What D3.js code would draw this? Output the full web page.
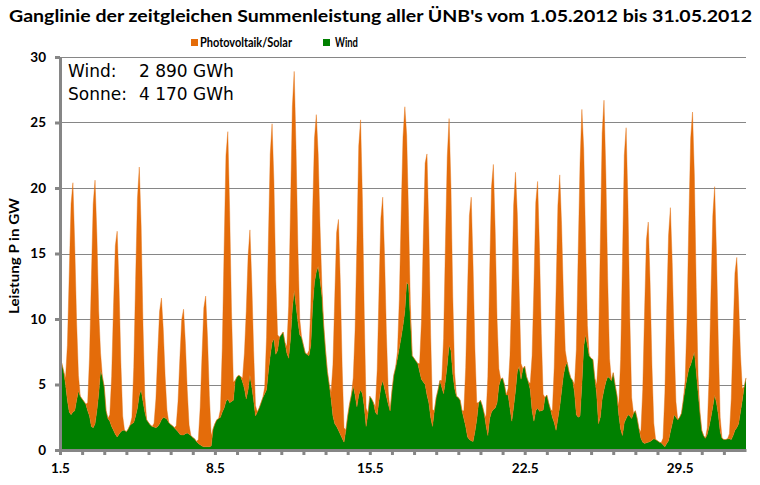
<!DOCTYPE html>
<html><head><meta charset="utf-8">
<script src="https://cdn.jsdelivr.net/npm/d3@7"></script>
<style>body{margin:0;background:#fff}svg{display:block}</style>
</head><body><svg id="c" width="760" height="485"></svg>
<script>
// ---- data (2-hour steps, GW) ----
const titleText = "Ganglinie der zeitgleichen Summenleistung aller ÜNB's vom 1.05.2012 bis 31.05.2012";
const seriesNames = ["Photovoltaik/Solar", "Wind"];
const yTicks = [0, 5, 10, 15, 20, 25, 30];
const dayTicks = d3.range(0, 31);
const xLabelDays = [0, 7, 14, 21, 28];
const xLabels = ["1.5", "8.5", "15.5", "22.5", "29.5"];
const stepHours = 2;
const totals = [["Wind:", "2 890 GWh"], ["Sonne:", "4 170 GWh"]];

const wind = [
 6.4,6.6,6.0,5.0,3.8,2.9,2.7,2.9,3.0,3.8,4.5,4.1,
 3.9,3.7,3.5,3.0,2.6,1.8,1.7,2.0,3.0,4.3,6.1,5.6,
 4.8,3.0,2.4,2.2,1.8,1.5,1.2,1.0,1.2,1.4,1.5,1.5,
 1.4,1.6,1.9,2.0,2.1,2.6,3.2,4.2,4.6,3.7,2.9,2.3,
 2.1,1.9,1.8,1.75,1.7,1.8,2.0,2.3,2.5,2.45,2.35,2.1,
 1.95,1.85,1.7,1.55,1.4,1.2,1.15,1.15,1.25,1.3,1.2,1.1,
 0.95,0.85,0.65,0.5,0.4,0.3,0.25,0.25,0.25,0.25,0.3,1.6,
 2.0,2.3,2.4,2.5,2.9,3.2,3.7,3.9,3.6,3.7,3.8,5.3,
 5.6,5.7,5.6,5.2,4.7,3.9,4.6,5.7,4.8,3.8,2.6,2.9,
 3.2,3.6,4.0,4.3,4.6,6.0,7.2,8.2,8.5,7.3,7.6,8.6,
 8.8,9.0,8.2,7.4,7.0,8.5,10.8,12.2,11.0,9.8,8.8,8.6,
 8.0,7.4,7.3,7.2,8.0,11.0,12.8,13.6,14.0,13.0,11.8,9.5,
 7.6,6.0,5.0,3.9,2.6,2.0,1.8,1.5,1.2,0.9,0.6,1.5,
 2.6,3.5,4.2,4.9,4.2,3.3,4.2,4.6,4.3,3.3,1.8,2.8,
 4.1,3.9,3.6,2.9,2.7,3.8,4.8,5.3,4.7,4.1,3.5,3.0,
 4.5,5.7,6.3,7.0,7.8,8.6,9.5,10.6,12.8,12.6,10.0,7.2,
 7.0,6.8,6.6,6.0,5.4,5.2,5.0,4.2,3.6,2.5,1.8,3.0,
 4.0,4.6,5.3,4.8,4.3,5.3,6.5,8.0,7.6,5.8,4.7,4.1,
 4.0,3.8,3.0,2.4,1.8,1.0,0.8,0.7,0.65,1.4,2.3,3.6,
 3.8,3.4,2.8,1.9,1.1,2.4,2.9,3.1,3.2,3.6,4.9,5.4,
 5.5,5.0,4.2,4.2,3.2,2.2,3.3,4.5,6.0,6.4,5.4,6.2,
 6.4,5.6,5.2,4.6,3.0,2.2,3.0,3.2,2.95,3.0,3.05,4.0,
 4.2,3.6,3.1,2.5,2.1,1.5,2.4,3.3,4.5,5.7,6.4,6.7,
 6.0,5.5,5.3,4.4,2.7,2.5,2.6,5.0,7.9,8.8,8.0,7.2,
 7.0,6.9,5.5,4.3,2.0,2.5,3.9,4.6,5.2,5.6,5.5,5.3,
 5.9,5.0,4.2,2.7,1.6,1.1,2.1,2.4,2.7,2.6,2.4,2.8,
 3.0,2.4,1.6,0.9,0.6,0.5,0.55,0.6,0.65,0.75,0.85,0.8,
 0.7,0.6,0.55,0.4,0.25,0.5,0.7,1.4,2.0,2.7,2.5,2.3,
 2.5,2.8,3.8,4.7,5.5,6.2,6.5,7.0,7.5,6.0,4.4,2.9,
 1.5,1.1,0.9,1.2,1.8,2.5,3.3,4.2,3.6,2.7,1.4,0.9,
 0.8,0.8,0.85,0.85,0.8,1.1,1.5,1.7,2.0,2.9,3.8,4.8,
 5.5
];

const solar = [
 0,0,0,0.5,4.2,10.5,16.1,17.5,12.6,6.0,1.2,0,
 0,0,0,0.6,4.5,11.2,17.1,18.6,13.4,6.3,1.3,0,
 0,0,0,0.5,3.8,9.4,14.4,15.7,11.3,5.3,1.1,0,
 0,0,0,0.5,4.2,10.4,16.0,17.4,12.5,5.9,1.2,0,
 0,0,0,0.3,2.2,5.6,8.6,9.3,6.7,3.2,0.7,0,
 0,0,0,0.3,2.3,5.8,8.8,9.6,6.9,3.3,0.7,0,
 0,0,0,0.3,2.8,6.9,10.6,11.5,8.3,3.9,0.8,0,
 0,0,0,0.6,4.9,12.2,18.8,20.4,14.7,6.9,1.4,0,
 0,0,0,0.3,2.7,6.7,10.2,11.1,8.0,3.8,0.8,0,
 0,0,0,0.5,4.0,10.0,15.4,16.7,12.0,5.7,1.2,0,
 0,0,0,0.5,4.0,10.0,15.4,16.7,12.0,5.7,1.2,0,
 0,0,0,0.4,2.9,7.2,11.0,12.0,8.6,4.1,0.8,0,
 0,0,0,0.5,3.9,9.7,14.8,16.1,11.6,5.5,1.1,0,
 0,0,0,0.6,4.9,12.4,19.0,20.6,14.8,7.0,1.4,0,
 0,0,0,0.4,3.4,8.4,12.9,14.0,10.1,4.8,1.0,0,
 0,0,0,0.5,3.7,9.4,14.4,15.6,11.2,5.3,1.1,0,
 0,0,0,0.6,4.4,11.0,16.9,18.4,13.2,6.3,1.3,0,
 0,0,0,0.5,4.2,10.4,15.9,17.3,12.5,5.9,1.2,0,
 0,0,0,0.6,4.5,11.2,17.1,18.6,13.4,6.3,1.3,0,
 0,0,0,0.6,4.5,11.2,17.2,18.7,13.5,6.4,1.3,0,
 0,0,0,0.5,4.0,10.0,15.4,16.7,12.0,5.7,1.2,0,
 0,0,0,0.5,4.2,10.4,15.9,17.3,12.5,5.9,1.2,0,
 0,0,0,0.5,4.2,10.6,16.3,17.7,12.7,6.0,1.2,0,
 0,0,0,0.6,5.0,12.6,19.3,21.0,15.1,7.1,1.5,0,
 0,0,0,0.7,5.3,13.3,20.3,22.1,15.9,7.5,1.5,0,
 0,0,0,0.7,5.3,13.3,20.4,22.2,16.0,7.5,1.6,0,
 0,0,0,0.5,4.0,10.1,15.5,16.8,12.1,5.7,1.2,0,
 0,0,0,0.5,4.1,10.3,15.7,17.1,12.3,5.8,1.2,0,
 0,0,0,0.6,4.5,11.3,17.3,18.8,13.5,6.4,1.3,0,
 0,0,0,0.5,3.8,9.5,14.6,15.9,11.4,5.4,1.1,0,
 0,0,0,0.4,3.1,7.8,12.0,13.0,9.4,4.4,0.9,0,
 0
];

// ---- chart ----
const svg = d3.select("#c");
const W = 760, H = 485;
const m = {left: 60, right: 746, top: 57, bottom: 450};
const totalHours = 31 * 24;
const x = d3.scaleLinear().domain([0, totalHours]).range([m.left, m.right]);
const y = d3.scaleLinear().domain([0, 30]).range([m.bottom, m.top]);
const colors = {wind: "#008000", solar: "#E46C0A"};
const grey = "#868686";
const calibri = "Lato, 'Open Sans', sans-serif";

function fit(sel, w) {
  sel.each(function() {
    const cur = this.getComputedTextLength();
    if (Math.abs(cur - w) > 1) {
      d3.select(this).attr("textLength", w).attr("lengthAdjust", "spacingAndGlyphs");
    }
  });
}

svg.append("rect").attr("width", W).attr("height", H).attr("fill", "#fff");

// gridlines
svg.append("g").selectAll("line").data(yTicks.filter(d => d > 0)).join("line")
  .attr("x1", m.left).attr("x2", m.right)
  .attr("y1", d => Math.round(y(d)) + 0.5).attr("y2", d => Math.round(y(d)) + 0.5)
  .attr("stroke", grey).attr("stroke-width", 1);

// stacked areas
const rows = wind.map((w, i) => ({t: i * stepHours, wind: w, solar: solar[i]}));
const stack = d3.stack().keys(["wind", "solar"])(rows);
const area = d3.area()
  .x(d => x(d.data.t))
  .y0(d => y(d[0]))
  .y1(d => y(d[1]));
svg.append("g").selectAll("path").data(stack).join("path")
  .attr("d", area)
  .attr("fill", d => colors[d.key])
  .attr("stroke", d => d.key === "solar" ? colors.solar : "none")
  .attr("stroke-width", 0.4);

// y axis
const yAxis = d3.axisLeft(y).tickValues(yTicks).tickSize(5).tickSizeOuter(0).tickPadding(9).tickFormat(d3.format("d"));
const gy = svg.append("g").attr("transform", `translate(${m.left},0)`).call(yAxis);
gy.select(".domain").attr("stroke", grey).attr("stroke-width", 3);
gy.selectAll(".tick line").attr("stroke", grey).attr("stroke-width", 3);
gy.selectAll(".tick text").attr("font-family", calibri).attr("font-weight", "bold")
  .attr("font-size", 13.5).attr("fill", "#000");

// x axis
const xAxis = d3.axisBottom(x).tickValues(dayTicks.map(d => d * 24)).tickSize(5).tickSizeOuter(0).tickPadding(8)
  .tickFormat(v => { const k = xLabelDays.indexOf(v / 24); return k >= 0 ? xLabels[k] : ""; });
const gx = svg.append("g").attr("transform", `translate(0,${m.bottom})`).call(xAxis);
gx.select(".domain").attr("stroke", grey).attr("stroke-width", 3);
gx.selectAll(".tick line").attr("stroke", grey).attr("stroke-width", 3);
gx.selectAll(".tick text").attr("font-family", calibri).attr("font-weight", "bold")
  .attr("font-size", 13.5).attr("fill", "#000");

// title
svg.append("text").attr("x", 9).attr("y", 22).text(titleText)
  .attr("font-family", calibri).attr("font-weight", "bold").attr("font-size", 17.5).attr("fill", "#000")
  .call(fit, 743);

// legend
const legend = [
  {name: seriesNames[0], color: colors.solar, sx: 191, tx: 200, tw: 92},
  {name: seriesNames[1], color: colors.wind, sx: 323, tx: 335, tw: 23}
];
const lg = svg.append("g");
lg.selectAll("rect").data(legend).join("rect")
  .attr("x", d => d.sx).attr("y", 39).attr("width", 7).attr("height", 7).attr("fill", d => d.color);
lg.selectAll("text").data(legend).join("text")
  .attr("x", d => d.tx).attr("y", 47).text(d => d.name)
  .attr("font-family", calibri).attr("font-weight", "bold").attr("font-size", 12.5).attr("fill", "#000")
  .each(function(d) { d3.select(this).call(fit, d.tw); });

// y axis title
svg.append("text").attr("transform", "translate(19,256) rotate(-90)")
  .attr("text-anchor", "middle").text("Leistung P in GW")
  .attr("font-family", calibri).attr("font-weight", "bold").attr("font-size", 13).attr("fill", "#000")
  .call(fit, 116);

// energy totals
const tg = svg.append("g").attr("font-family", "'DejaVu Sans', Verdana, sans-serif").attr("font-size", 17).attr("fill", "#000");
totals.forEach((t, i) => {
  tg.append("text").attr("x", 68).attr("y", 77 + i * 23).text(t[0]);
  tg.append("text").attr("x", 139).attr("y", 77 + i * 23).text(t[1]);
});
</script>
</body></html>
